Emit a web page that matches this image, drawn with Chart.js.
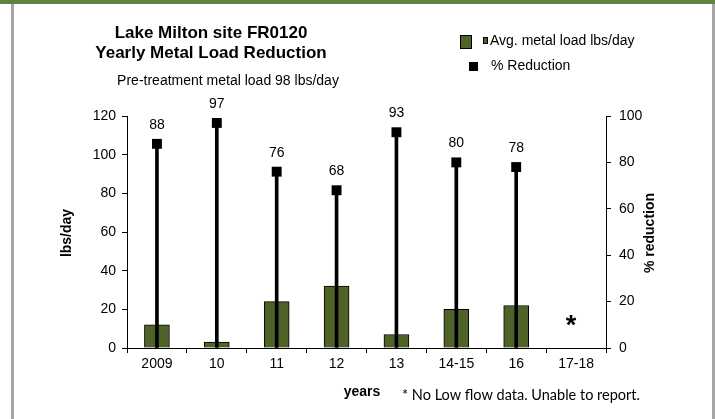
<!DOCTYPE html>
<html>
<head>
<meta charset="utf-8">
<script src="https://cdn.jsdelivr.net/npm/chart.js@4/dist/chart.umd.min.js"></script>
<style>
  body { margin: 0; background: #fff; }
  #wrap { position: relative; width: 715px; height: 419px; overflow: hidden; }
  #topBar { position: absolute; left: 0; top: 0; width: 715px; height: 4px; background: #5f8240; }
  #leftLine { position: absolute; left: 11px; top: 4px; width: 3px; height: 415px; background: #a6a6a6; }
  #rightLine { position: absolute; left: 712px; top: 4px; width: 3px; height: 415px; background: #a6a6a6; }
  canvas { position: absolute; left: 0; top: 0; }
</style>
</head>
<body>
<div id="wrap">
  <canvas id="chart" width="715" height="419"></canvas>
  <div id="topBar"></div>
  <div id="leftLine"></div>
  <div id="rightLine"></div>
</div>
<script>
const years = ["2009", "10", "11", "12", "13", "14-15", "16", "17-18"];
const avgLoad = [12, 3, 24, 32, 7, 20, 22, null];
const pctReduction = [88, 97, 76, 68, 93, 80, 78, null];
const loadTicks = [0, 20, 40, 60, 80, 100, 120];
const pctTicks = [0, 20, 40, 60, 80, 100];
const noDataLabel = "17-18";

const FONT = "'Liberation Sans', Arial, sans-serif";
const GREEN = "#4f6228";

// titles, legend, value labels and notes
const textPlugin = {
    id: "texts",
    afterDraw(chart) {
        const ctx = chart.ctx;
        const x = chart.scales.x;
        const y2 = chart.scales.y2;
        ctx.save();
        ctx.fillStyle = "#000";
        ctx.textBaseline = "middle";

        // title block
        ctx.textAlign = "center";
        ctx.font = "bold 17px " + FONT;
        ctx.fillText("Lake Milton site FR0120", 211, 33);
        ctx.fillText("Yearly Metal Load Reduction", 211, 53);
        ctx.font = "14px " + FONT;
        ctx.fillText("Pre-treatment metal load 98 lbs/day", 228, 81);

        // legend
        ctx.strokeStyle = "#000";
        ctx.lineWidth = 1;
        ctx.fillStyle = GREEN;
        ctx.fillRect(460, 35, 11, 13);
        ctx.strokeRect(460.5, 35.5, 11, 13);
        ctx.fillRect(483, 37, 5, 7);
        ctx.strokeRect(483.5, 37.5, 4, 6);
        ctx.fillStyle = "#000";
        ctx.fillRect(469, 62, 9, 9);
        ctx.textAlign = "left";
        ctx.font = "14px " + FONT;
        ctx.fillText("Avg. metal load lbs/day", 490, 41);
        ctx.fillText("% Reduction", 491, 66);

        // value labels above markers
        ctx.textAlign = "center";
        pctReduction.forEach((v, i) => {
            if (v === null) return;
            ctx.fillText(String(v), x.getPixelForValue(i), y2.getPixelForValue(v) - 19);
        });

        // no-data asterisk
        const idx = years.indexOf(noDataLabel);
        ctx.font = "bold 27px " + FONT;
        ctx.textBaseline = "alphabetic";
        ctx.fillText("*", x.getPixelForValue(idx) - 5, 334);

        // axis titles
        ctx.textBaseline = "middle";
        ctx.font = "bold 14px " + FONT;
        ctx.fillText("years", 362, 392);
        ctx.save();
        ctx.translate(67, 233);
        ctx.rotate(-Math.PI / 2);
        ctx.fillText("lbs/day", 0, 0);
        ctx.restore();
        ctx.save();
        ctx.translate(650, 233);
        ctx.rotate(-Math.PI / 2);
        ctx.fillText("% reduction", 0, 0);
        ctx.restore();

        // footnote
        ctx.textAlign = "left";
        ctx.font = "14.5px Lato, 'Open Sans', sans-serif";
        ctx.fillText("* No Low flow data. Unable to report.", 402, 395);
        ctx.restore();
    }
};

new Chart(document.getElementById("chart").getContext("2d"), {
    type: "bar",
    data: {
        labels: years,
        datasets: [
            {
                label: "% Reduction",
                type: "line",
                data: pctReduction,
                yAxisID: "y2",
                showLine: false,
                pointStyle: "rect",
                pointRadius: 7,
                pointBackgroundColor: "#000",
                pointBorderWidth: 0,
                order: 1
            },
            {
                label: "drop",
                data: pctReduction,
                yAxisID: "y2",
                backgroundColor: "#000",
                barThickness: 3,
                grouped: false,
                order: 2
            },
            {
                label: "Avg. metal load lbs/day",
                data: avgLoad,
                yAxisID: "y",
                backgroundColor: GREEN,
                borderColor: "#000",
                borderWidth: 1,
                barThickness: 25,
                grouped: false,
                order: 3
            }
        ]
    },
    options: {
        responsive: false,
        animation: false,
        layout: { padding: { top: 116, left: 0, right: 0, bottom: 0 } },
        plugins: {
            legend: { display: false },
            tooltip: { enabled: false }
        },
        scales: {
            x: {
                grid: { drawOnChartArea: false, tickLength: 5, color: "#000", offset: true },
                border: { display: true, color: "#000", width: 1 },
                ticks: { color: "#000", font: { family: FONT, size: 14 }, padding: 3, maxRotation: 0 },
                afterFit(s) { s.height = 71; }
            },
            y: {
                position: "left",
                min: loadTicks[0],
                max: loadTicks[loadTicks.length - 1],
                grid: { drawOnChartArea: false, tickLength: 5, color: "#000" },
                border: { display: true, color: "#000", width: 1 },
                ticks: { stepSize: 20, color: "#000", font: { family: FONT, size: 14 }, padding: 6 },
                afterFit(s) { s.width = 127; }
            },
            y2: {
                position: "right",
                min: pctTicks[0],
                max: pctTicks[pctTicks.length - 1],
                grid: { drawOnChartArea: false, tickLength: 5, color: "#000" },
                border: { display: true, color: "#000", width: 1 },
                ticks: { stepSize: 20, color: "#000", font: { family: FONT, size: 14 }, padding: 8 },
                afterFit(s) { s.width = 109; }
            }
        }
    },
    plugins: [textPlugin]
});
</script>
</body>
</html>
